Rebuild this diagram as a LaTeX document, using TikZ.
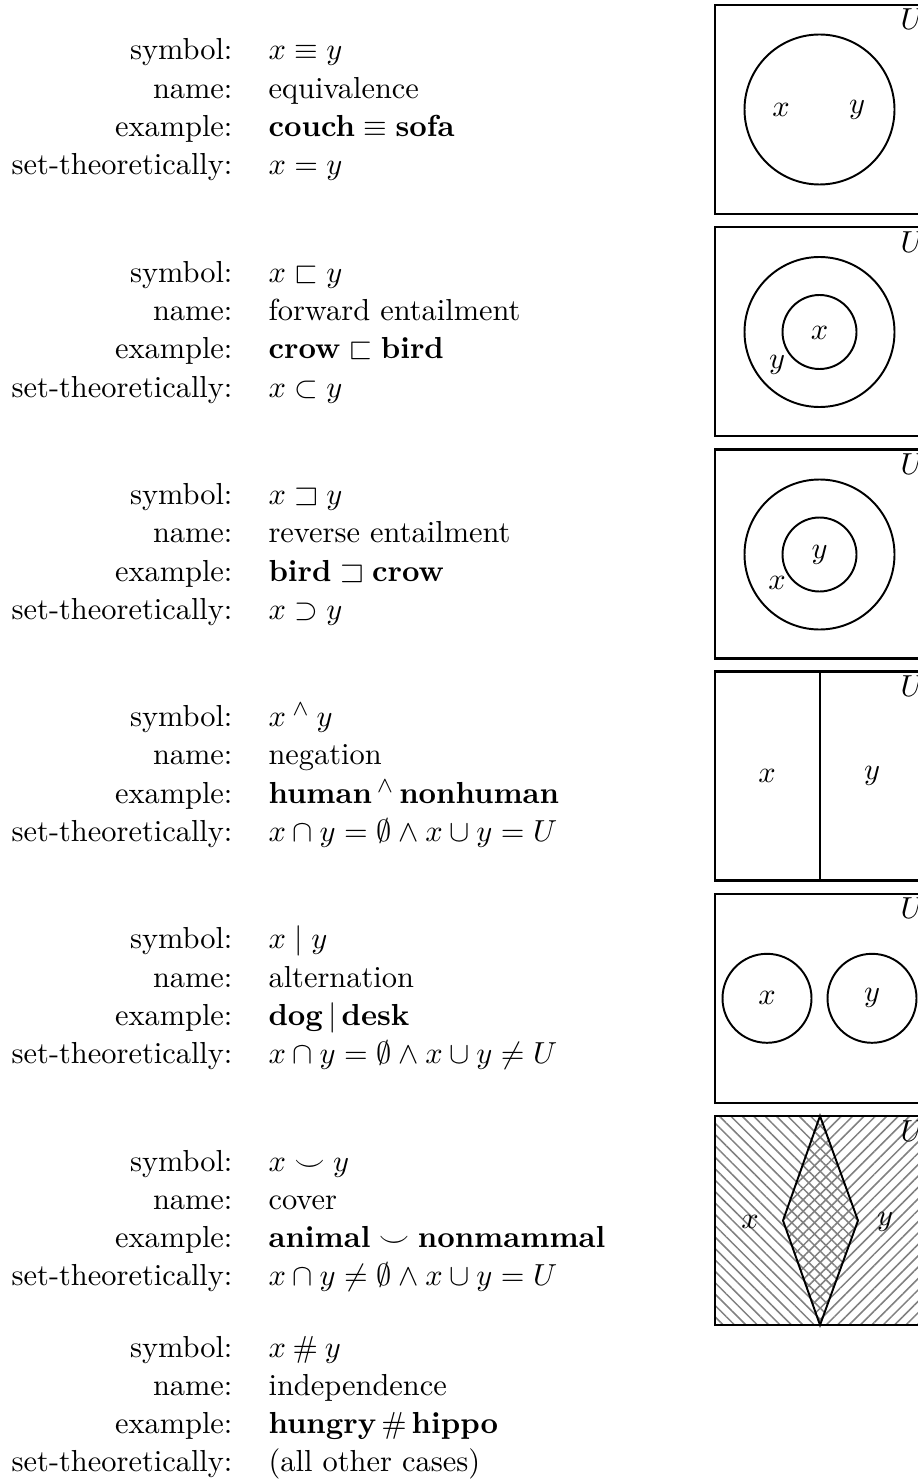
\documentclass[tikz,border=0pt]{standalone}
\usepackage{amsmath, amssymb}
\usepackage{tikz}
\usetikzlibrary{patterns.meta}

\begin{document}
\begin{tikzpicture}[
    x=0.36pt, y=-0.36pt,
    font=\fontsize{10.95}{13.8}\selectfont,
    lab/.style={anchor=base east, inner sep=0pt},
    val/.style={anchor=base west, inner sep=0pt},
    frame/.style={line width=0.8pt},
    set/.style={line width=0.7pt},
    hatch/.style={pattern={Lines[angle=#1, distance=2.9pt, line width=0.55pt]}, pattern color=gray},
]
\def\L{715}    % left edge of the boxes
\def\R{924}    % right edge (runs past the page)
\def\cx{819.5} % middle of the boxes
\def\dl{38.3}  % line distance in the text blocks

\useasboundingbox (0,0) rectangle (917,1479);

% Text blocks
\foreach \n/\y/\rel/\nm/\eg/\sets in {
    1/60/{$x \equiv y$}/{equivalence}/{\textbf{couch}${}\equiv{}$\textbf{sofa}}/{$x = y$},
    2/282.2/{$x \sqsubset y$}/{forward entailment}/{\textbf{crow}${}\sqsubset{}$\textbf{bird}}/{$x \subset y$},
    3/504.4/{$x \sqsupset y$}/{reverse entailment}/{\textbf{bird}${}\sqsupset{}$\textbf{crow}}/{$x \supset y$},
    4/726.6/{$x \mathbin{{}^\wedge} y$}/{negation}/{\textbf{human}\,${}^\wedge$\,\textbf{nonhuman}}/{$x \cap y = \emptyset \wedge x \cup y = U$},
    5/948.8/{$x \mid y$}/{alternation}/{\textbf{dog}\,$|$\,\textbf{desk}}/{$x \cap y = \emptyset \wedge x \cup y \neq U$},
    6/1171/{$x \smile y$}/{cover}/{\textbf{animal}${}\smile{}$\textbf{nonmammal}}/{$x \cap y \neq \emptyset \wedge x \cup y = U$},
    7/1357/{$x \mathbin{\#} y$}/{independence}/{\textbf{hungry}\,\#\,\textbf{hippo}}/{(all other cases)}%
}{
    \node[lab] (symbol-\n)    at (233,\y)       {symbol:};
    \node[val] (symbol-\n-v)  at (268,\y)       {\rel};
    \node[lab] (name-\n)      at (233,\y+\dl)   {name:};
    \node[val] (name-\n-v)    at (268,\y+\dl)   {\nm};
    \node[lab] (example-\n)   at (233,\y+2*\dl) {example:};
    \node[val] (example-\n-v) at (268,\y+2*\dl) {\eg};
    \node[lab] (set-\n)       at (233,\y+3*\dl) {set-theoretically:};
    \node[val] (set-\n-v)     at (268,\y+3*\dl) {\sets};
}

% Cover: hatched x and y regions
\path[hatch=-45] (\L,1116) -- (820,1116) -- (858,1220.5) -- (820,1325) -- (\L,1325) -- cycle;
\path[hatch=45]  (820,1116) -- (\R,1116) -- (\R,1325) -- (820,1325) -- (783,1220.5) -- cycle;
\draw[set] (820,1116) -- (858,1220.5) -- (820,1325) -- (783,1220.5) -- cycle;
\node (x-6) at (750,1222) {$x$};
\node (y-6) at (885,1222) {$y$};

% Boxes with the universe label
\foreach \n in {0,...,5}{
    \pgfmathsetmacro\T{5+222.2*\n}
    \draw[frame] (\L,\T) rectangle (\R,\T+209);
    \node[anchor=base west, inner sep=0pt] (U-\n) at (900,\T+25) {$U$};
}

% Equivalence
\draw[set] (\cx,109.5) circle[radius=75];
\node (x-1) at (781,110) {$x$};
\node (y-1) at (857,110) {$y$};

% Forward entailment
\draw[set] (\cx,332) circle[radius=75];
\draw[set] (\cx,332) circle[radius=37];
\node (x-2) at (\cx,333) {$x$};
\node (y-2) at (777,365) {$y$};

% Reverse entailment
\draw[set] (\cx,554.5) circle[radius=75];
\draw[set] (\cx,554.5) circle[radius=37];
\node (y-3) at (\cx,555) {$y$};
\node (x-3) at (777,583) {$x$};

% Negation
\draw[set] (820,671.6) -- (820,880.6);
\node (x-4) at (767,776) {$x$};
\node (y-4) at (872,776) {$y$};

% Alternation
\draw[set] (767,998.3) circle[radius=44.5];
\draw[set] (872,998.3) circle[radius=44.5];
\node (x-5) at (767,998.3) {$x$};
\node (y-5) at (872,998.3) {$y$};

\end{tikzpicture}
\end{document}
